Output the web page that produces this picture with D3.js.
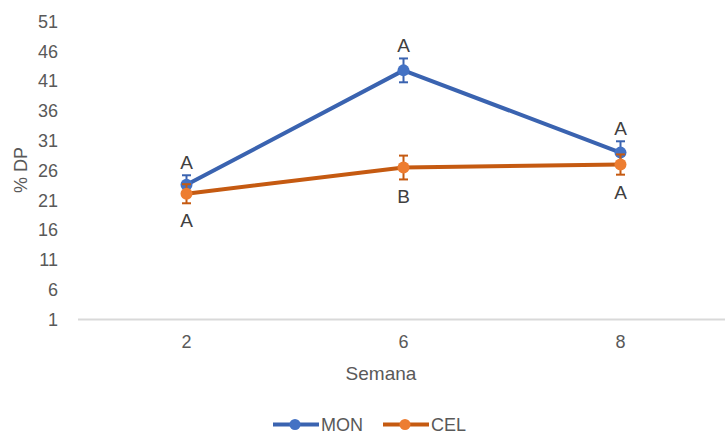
<!DOCTYPE html>
<html>
<head>
<meta charset="utf-8">
<script src="https://cdn.jsdelivr.net/npm/d3@7"></script>
<style>
  html, body { margin: 0; padding: 0; background: #ffffff; }
  svg { display: block; font-family: "Liberation Sans", Arial, sans-serif; }
</style>
</head>
<body>
<svg id="chart" width="725" height="435"></svg>
<script>
// Weeks on the x axis
const weeks = ["2", "6", "8"];
// % DP per treatment
const monValues = [23.6, 42.8, 29.0];
const celValues = [22.1, 26.5, 27.0];
// Error bar half-widths
const monErrors = [1.6, 2.0, 1.9];
const celErrors = [1.6, 2.0, 1.7];
// Significance letters
const monLetters = ["A", "A", "A"];
const celLetters = ["A", "B", "A"];
// Y tick labels
const yTicks = [1, 6, 11, 16, 21, 26, 31, 36, 41, 46, 51];

const series = [
  { name: "MON", values: monValues, errors: monErrors, letters: monLetters,
    line: "#3a63b0", marker: "#4472c4", labelSide: "above" },
  { name: "CEL", values: celValues, errors: celErrors, letters: celLetters,
    line: "#c55a11", marker: "#ed7d31", labelSide: "below" }
];

const svg = d3.select("#chart");
const x = d3.scaleBand().domain(weeks).range([78, 729]);
const y = d3.scaleLinear().domain([1, 51]).range([319.5, 21.5]);
const cx = d => x(d) + x.bandwidth() / 2;

// Y axis labels (no axis line, no gridlines)
const yAxis = svg.append("g").attr("transform", "translate(58,0)")
  .call(d3.axisLeft(y).tickValues(yTicks).tickSize(0).tickPadding(0));
yAxis.select(".domain").remove();
yAxis.selectAll("text").attr("fill", "#595959").style("font-size", "18px")
  .style("font-family", "'Liberation Sans', Arial, sans-serif");

// X axis baseline and labels
const xAxis = svg.append("g").attr("transform", "translate(0,319.5)")
  .call(d3.axisBottom(x).tickSize(0).tickPadding(16));
xAxis.select(".domain").attr("stroke", "#d9d9d9").attr("stroke-width", 2)
  .attr("d", "M78,0H725");
xAxis.selectAll("text").attr("fill", "#595959").style("font-size", "18px")
  .style("font-family", "'Liberation Sans', Arial, sans-serif");

// Axis titles
svg.append("text").attr("x", 381).attr("y", 380).attr("text-anchor", "middle")
  .attr("fill", "#595959").style("font-size", "19px").text("Semana");
svg.append("text").attr("transform", "translate(27,170) rotate(-90)")
  .attr("text-anchor", "middle").attr("fill", "#595959")
  .style("font-size", "18px").text("% DP");

const line = d3.line().x((d, i) => cx(weeks[i])).y(d => y(d));

series.forEach(s => {
  const g = svg.append("g");
  g.append("path").datum(s.values).attr("d", line)
    .attr("fill", "none").attr("stroke", s.line).attr("stroke-width", 4)
    .attr("stroke-linejoin", "round");

  // Error bars with caps
  s.values.forEach((v, i) => {
    const px = cx(weeks[i]);
    const top = y(v + s.errors[i]);
    const bot = y(v - s.errors[i]);
    g.append("line").attr("x1", px).attr("x2", px).attr("y1", top).attr("y2", bot)
      .attr("stroke", s.line).attr("stroke-width", 2);
    [top, bot].forEach(yy => g.append("line")
      .attr("x1", px - 4.5).attr("x2", px + 4.5).attr("y1", yy).attr("y2", yy)
      .attr("stroke", s.line).attr("stroke-width", 2));
  });

  g.selectAll("circle").data(s.values).join("circle")
    .attr("cx", (d, i) => cx(weeks[i])).attr("cy", d => y(d)).attr("r", 6)
    .attr("fill", s.marker);

  // Significance letters
  g.selectAll("text.letter").data(s.values).join("text").attr("class", "letter")
    .attr("x", (d, i) => cx(weeks[i]))
    .attr("y", (d, i) => s.labelSide === "above"
      ? y(d + s.errors[i]) - 6
      : y(d - s.errors[i]) + 24)
    .attr("text-anchor", "middle").attr("fill", "#404040")
    .style("font-size", "19px").text((d, i) => s.letters[i]);
});

// Legend
const legendItems = [
  { name: "MON", x: 273, line: "#3a63b0", marker: "#4472c4" },
  { name: "CEL", x: 383, line: "#c55a11", marker: "#ed7d31" }
];
const legend = svg.append("g");
legendItems.forEach(l => {
  legend.append("line").attr("x1", l.x).attr("x2", l.x + 46).attr("y1", 424.5).attr("y2", 424.5)
    .attr("stroke", l.line).attr("stroke-width", 4);
  legend.append("circle").attr("cx", l.x + 22).attr("cy", 424.5).attr("r", 5.5).attr("fill", l.marker);
  legend.append("text").attr("x", l.x + 48).attr("y", 430.5).attr("fill", "#595959")
    .style("font-size", "18px").text(l.name);
});
</script>
</body>
</html>
